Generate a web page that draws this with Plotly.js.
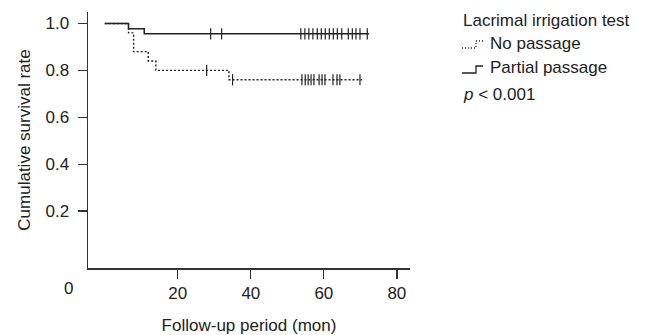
<!DOCTYPE html>
<html>
<head>
<meta charset="utf-8">
<script src="https://cdn.plot.ly/plotly-3.0.1.min.js"></script>
<style>html,body{margin:0;padding:0;background:#fff;}#chart{width:650px;height:335px;}</style>
</head>
<body>
<div id="chart"></div>
<script>
// Kaplan-Meier step data (months, cumulative survival)
var noPassageTime = [0, 6.5, 7.9, 11.9, 14.0, 34.0, 70.5];
var noPassageSurv = [1.0, 0.96, 0.88, 0.84, 0.80, 0.76, 0.76];
var noPassageCensor = [27.9, 35.0, 54.0, 54.9, 55.7, 56.5, 57.3, 58.7, 59.5, 60.3, 62.5, 63.6, 64.4, 69.9];

var partialTime = [0, 6.5, 10.8, 72.4];
var partialSurv = [1.0, 0.978, 0.956, 0.956];
var partialCensor = [29.0, 32.0, 53.7, 54.8, 55.9, 57.0, 58.2, 59.3, 60.4, 61.5, 62.6, 63.7, 64.9, 66.7, 67.8, 68.8, 69.9, 71.9];

var xTicks = [20, 40, 60, 80];
var yTicks = [0.2, 0.4, 0.6, 0.8, 1.0];
var yTickText = ["0.2", "0.4", "0.6", "0.8", "1.0"];

var legendTitle = "Lacrimal irrigation test";
var seriesNames = ["No passage", "Partial passage"];
var pText = "<i>p</i> &lt; 0.001";

function stepAt(times, surv, t) {
  var v = surv[0];
  for (var i = 0; i < times.length; i++) { if (times[i] <= t) v = surv[i]; }
  return v;
}

var ink = "#222";
var FONT = "Liberation Sans, Arial, Helvetica, sans-serif";
var FS = 17;

var traces = [
  {x: noPassageTime, y: noPassageSurv, mode: "lines", line: {shape: "hv", color: ink, width: 1.4, dash: "2px,2px"}, name: seriesNames[0], showlegend: false, hoverinfo: "skip"},
  {x: partialTime, y: partialSurv, mode: "lines", line: {shape: "hv", color: ink, width: 1.5}, name: seriesNames[1], showlegend: false, hoverinfo: "skip"},
  {x: noPassageCensor, y: noPassageCensor.map(function(t){return stepAt(noPassageTime, noPassageSurv, t);}), mode: "markers",
   marker: {symbol: "line-ns-open", size: 8, color: ink, line: {color: ink, width: 1.2}}, showlegend: false, hoverinfo: "skip"},
  {x: partialCensor, y: partialCensor.map(function(t){return stepAt(partialTime, partialSurv, t);}), mode: "markers",
   marker: {symbol: "line-ns-open", size: 8, color: ink, line: {color: ink, width: 1.2}}, showlegend: false, hoverinfo: "skip"}
];

// plot area in pixels
var L = 88, R = 410, T = 12, B = 268;
function px(x) { return (x - L) / (R - L); }
function py(y) { return (B - y) / (B - T); }

var layout = {
  width: 650, height: 335,
  margin: {l: L, r: 650 - R, t: T, b: 335 - B, pad: 0},
  paper_bgcolor: "#fff", plot_bgcolor: "#fff",
  font: {family: FONT, size: FS, color: ink},
  showlegend: false,
  xaxis: {
    range: [-4.6, 83.6], tickvals: xTicks, ticktext: xTicks.map(String),
    showline: true, linecolor: "#333", linewidth: 1.5, showgrid: false, zeroline: false,
    ticks: "outside", ticklen: 9, tickwidth: 1.3, tickcolor: "#333", ticklabelstandoff: 0,
    tickfont: {size: FS, family: FONT, color: ink},
    title: {text: "Follow-up period (mon)", font: {size: FS, family: FONT, color: ink}, standoff: 20}
  },
  yaxis: {
    range: [-0.043, 1.049], tickvals: yTicks, ticktext: yTickText,
    showline: true, linecolor: "#333", linewidth: 1.5, showgrid: false, zeroline: false,
    ticks: "outside", ticklen: 9, tickwidth: 1.3, tickcolor: "#333", ticklabelstandoff: 5,
    tickfont: {size: FS, family: FONT, color: ink},
    title: {text: "Cumulative survival rate", font: {size: FS, family: FONT, color: ink}, standoff: 10}
  },
  shapes: [
    {type: "path", xref: "paper", yref: "paper", path: "M" + px(462) + "," + py(48) + " L" + px(476) + "," + py(48) + " L" + px(476) + "," + py(41) + " L" + px(483) + "," + py(41),
     line: {color: ink, width: 1.3, dash: "1px,2px"}},
    {type: "path", xref: "paper", yref: "paper", path: "M" + px(462) + "," + py(73) + " L" + px(476) + "," + py(73) + " L" + px(476) + "," + py(66) + " L" + px(483) + "," + py(66),
     line: {color: ink, width: 1.3}}
  ],
  annotations: [
    {xref: "paper", yref: "paper", x: px(461), y: py(20), xanchor: "left", yanchor: "middle", text: legendTitle, showarrow: false, font: {size: FS, family: FONT, color: ink}},
    {xref: "paper", yref: "paper", x: px(488), y: py(43), xanchor: "left", yanchor: "middle", text: seriesNames[0], showarrow: false, font: {size: FS, family: FONT, color: ink}},
    {xref: "paper", yref: "paper", x: px(488), y: py(67), xanchor: "left", yanchor: "middle", text: seriesNames[1], showarrow: false, font: {size: FS, family: FONT, color: ink}},
    {xref: "paper", yref: "paper", x: px(461), y: py(94), xanchor: "left", yanchor: "middle", text: pText, showarrow: false, font: {size: FS, family: FONT, color: ink}},
    {xref: "paper", yref: "paper", x: px(68.5), y: py(288), xanchor: "center", yanchor: "middle", text: "0", showarrow: false, font: {size: FS, family: FONT, color: ink}}
  ]
};

Plotly.newPlot("chart", traces, layout, {staticPlot: true, displayModeBar: false});
</script>
</body>
</html>
